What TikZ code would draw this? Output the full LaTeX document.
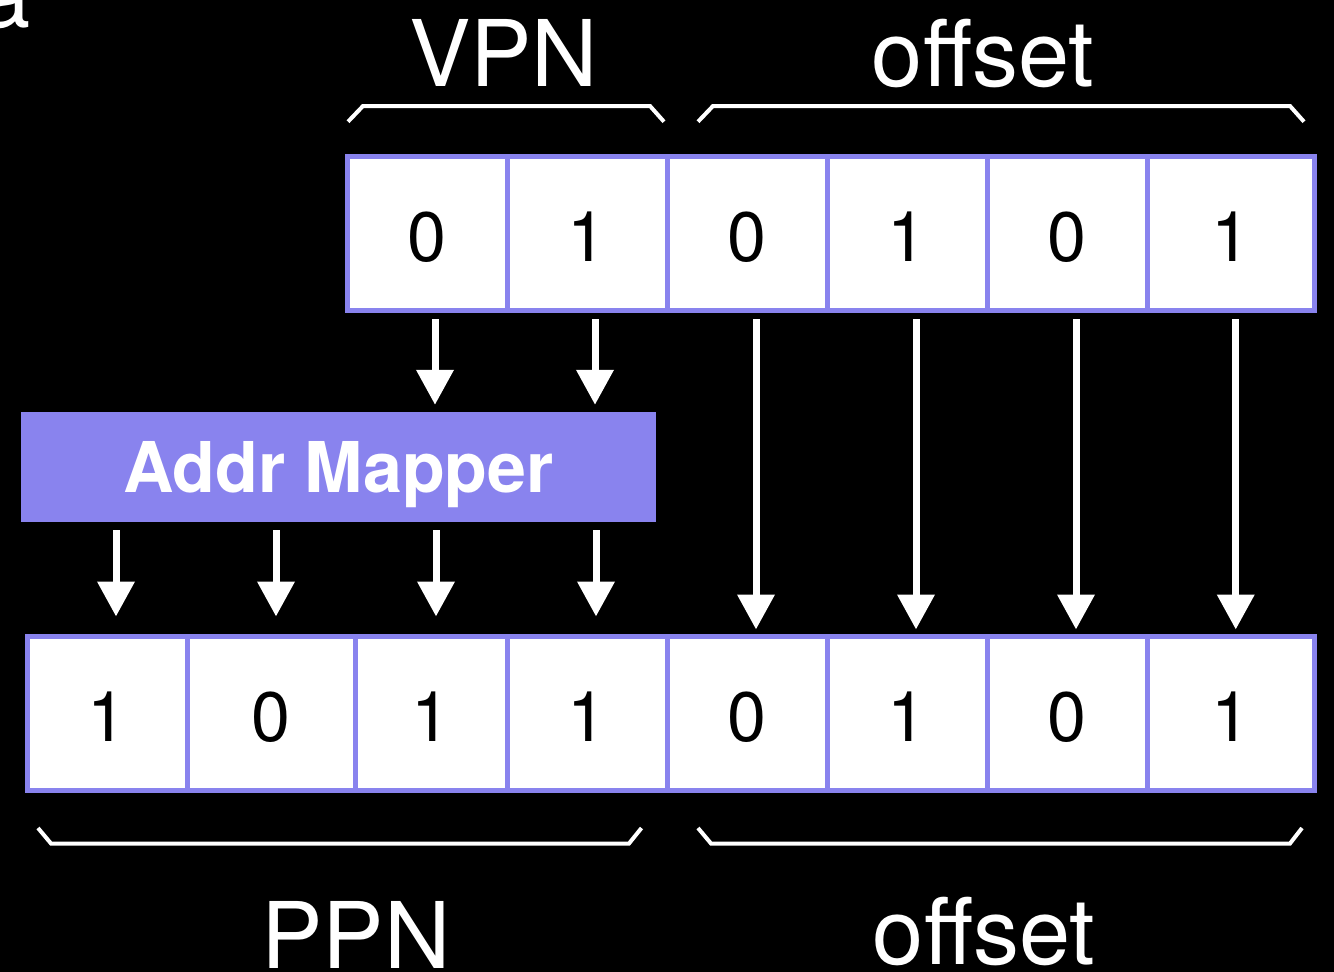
\documentclass[tikz,border=0pt]{standalone}
\usepackage{fontspec}
\setmainfont{TeX Gyre Heros}
\usetikzlibrary{arrows.meta, calc}

\definecolor{bitblue}{RGB}{137,131,238}

\tikzset{
  bitcell/.style={draw=bitblue, fill=white, line width=5pt, minimum height=154pt, inner sep=0pt, text=black,
                  text height=56pt, text depth=0pt, font=\fontsize{70}{70}\selectfont},
  bitarrow/.style={white, line width=7pt, -{Triangle[length=35pt,width=36pt]}},
  bracket/.style={white, line width=4pt},
  fieldname/.style={white, inner sep=0pt, anchor=base, font=\fontsize{92}{92}\selectfont}
}

\begin{document}
\begin{tikzpicture}[x=1pt, y=-1pt]
\clip (0,0) rectangle (1334,972);
\fill[black] (0,0) rectangle (1334,972);

% virtual address
\foreach \name/\cx/\w/\d in {v1/427/160/0, v2/587/160/1, v3/747/160/0, v4/907/160/1, v5/1067/160/0, v6/1230.75/167.5/1}
  \node[bitcell, minimum width=\w pt] (\name) at (\cx,233.5) {\d};

% physical address
\foreach \name/\cx/\w/\d in {p1/107/160/1, p2/271/168/0, p3/431/152/1, p4/587/160/1, p5/747/160/0, p6/907/160/1, p7/1067/160/0, p8/1230.75/167.5/1}
  \node[bitcell, minimum width=\w pt] (\name) at (\cx,713.5) {\d};

\node[fill=bitblue, minimum width=635pt, minimum height=110pt, inner sep=0pt, text=white,
      font=\bfseries\fontsize{70}{70}\selectfont, text height=50pt, text depth=0pt] (mapper) at (338.4,467) {Addr Mapper};

\node[fieldname] (vpn) at (503.7,86) {VPN};
\node[fieldname] (voff) at (983,86) {offset};
\node[fieldname] (ppn) at (356,968) {PPN};
\node[fieldname] (poff) at (984,964) {offset};
\node[fieldname, anchor=base east] (corner) at (31,27) {a};

% brackets
\draw[bracket] (348,121.7) -- (363,106) -- (650,106) -- (664,121.7);
\draw[bracket] (698,121.7) -- (713,106) -- (1290,106) -- (1304,121.7);
\draw[bracket] (38,828) -- (51,843.5) -- (629,843.5) -- (641.5,828);
\draw[bracket] (698,828) -- (711,843.5) -- (1290,843.5) -- (1302,828);

% arrows
\foreach \c in {v1,v2}
  \draw[bitarrow] ($(\c.south)+(8,6)$) -- ($(mapper.north -| \c.south)+(8,-7)$);
\foreach \a/\b/\dx in {v3/p5/9, v4/p6/9, v5/p7/9, v6/p8/5}
  \draw[bitarrow] ($(\a.south)+(\dx,6)$) -- ($(\b.north -| \a.south)+(\dx,-4.5)$);
\foreach \b/\dx in {p1/9, p2/5, p3/5, p4/9}
  \draw[bitarrow] ($(mapper.south -| \b.north)+(\dx,8)$) -- ($(\b.north)+(\dx,-17.5)$);
\end{tikzpicture}
\end{document}
